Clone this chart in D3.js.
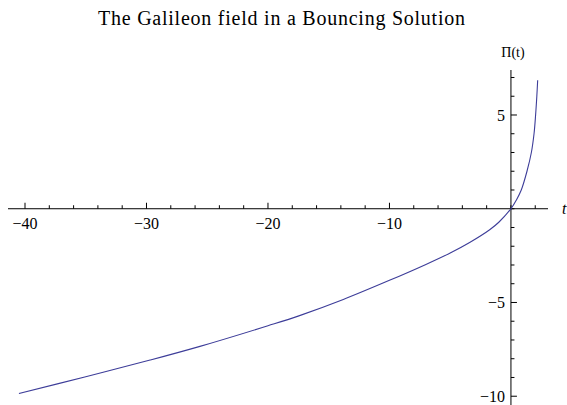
<!DOCTYPE html>
<html>
<head>
<meta charset="utf-8">
<script src="https://cdn.jsdelivr.net/npm/d3@7"></script>
<style>
  html, body { margin: 0; padding: 0; background: #fff; }
  svg { display: block; }
  text { font-family: "Liberation Serif", "Times New Roman", serif; fill: #000; }
</style>
</head>
<body>
<script>
// values
const tValues  = [-40.5, -35, -29.7, -25.6, -20, -17.4, -13.8, -10, -7, -5, -3.4, -1.75, -1, 0, 0.45, 0.85, 1.32, 1.68, 1.9, 2.03, 2.13, 2.2];
const piValues = [-9.85, -8.96, -8.07, -7.34, -6.24, -5.7, -4.84, -3.82, -2.97, -2.36, -1.8, -1.12, -0.72, 0, 0.47, 1, 2, 3, 4, 5, 6, 6.85];

const xMajorTicks = [-40, -30, -20, -10];
const xMinorTicks = d3.range(-40, 3, 2);
const yMajorTicks = [-10, -5, 5];
const yMinorTicks = d3.range(-10, 8, 1);

const titleText = "The Galileon field in a Bouncing Solution";
const xLabel = "t";
const yLabel = "\u03A0(t)";

const width = 567, height = 405;

const svg = d3.select("body").append("svg")
    .attr("width", width)
    .attr("height", height);

const x = d3.scaleLinear().domain([-41.4, 3.05]).range([8, 548]);
const y = d3.scaleLinear().domain([-10.5, 7.4]).range([405.6, 70]);

const fmt = d => (d < 0 ? "\u2212" + Math.abs(d) : String(d));

// x axis
const gx = svg.append("g").attr("transform", `translate(0,${y(0)})`);
gx.append("line")
    .attr("x1", x.range()[0]).attr("x2", x.range()[1])
    .attr("stroke", "#000").attr("stroke-width", 1);
gx.selectAll("line.minor").data(xMinorTicks).enter().append("line")
    .attr("class", "minor")
    .attr("x1", d => x(d)).attr("x2", d => x(d))
    .attr("y1", 0).attr("y2", d => xMajorTicks.includes(d) ? -6 : -3.5)
    .attr("stroke", "#000").attr("stroke-width", 1);
gx.selectAll("text").data(xMajorTicks).enter().append("text")
    .attr("x", d => x(d))
    .attr("y", 20.5)
    .attr("text-anchor", "middle")
    .attr("font-size", 16)
    .text(fmt);

// y axis
const gy = svg.append("g").attr("transform", `translate(${x(0)},0)`);
gy.append("line")
    .attr("y1", y.range()[0]).attr("y2", y.range()[1])
    .attr("stroke", "#000").attr("stroke-width", 1);
gy.selectAll("line.minor").data(yMinorTicks).enter().append("line")
    .attr("class", "minor")
    .attr("y1", d => y(d)).attr("y2", d => y(d))
    .attr("x1", 0).attr("x2", d => yMajorTicks.includes(d) ? 6 : 3.5)
    .attr("stroke", "#000").attr("stroke-width", 1);
gy.selectAll("text").data(yMajorTicks).enter().append("text")
    .attr("x", -6)
    .attr("y", d => y(d) + 6)
    .attr("text-anchor", "end")
    .attr("font-size", 16)
    .text(fmt);

// curve
const line = d3.line()
    .x((d, i) => x(tValues[i]))
    .y(d => y(d))
    .curve(d3.curveCatmullRom.alpha(0.5));

svg.append("path")
    .datum(piValues)
    .attr("fill", "none")
    .attr("stroke", "#3d3d99")
    .attr("stroke-width", 1.1)
    .attr("d", line);

// labels
svg.append("text")
    .attr("x", 281.5).attr("y", 25)
    .attr("text-anchor", "middle")
    .attr("font-size", 20)
    .attr("textLength", 367)
    .attr("lengthAdjust", "spacing")
    .text(titleText);

svg.append("text")
    .attr("x", x(0) + 2).attr("y", 57)
    .attr("text-anchor", "middle")
    .attr("font-size", 14)
    .text(yLabel);

svg.append("text")
    .attr("x", 562).attr("y", 214)
    .attr("font-size", 16)
    .attr("font-style", "italic")
    .text(xLabel);
</script>
</body>
</html>
